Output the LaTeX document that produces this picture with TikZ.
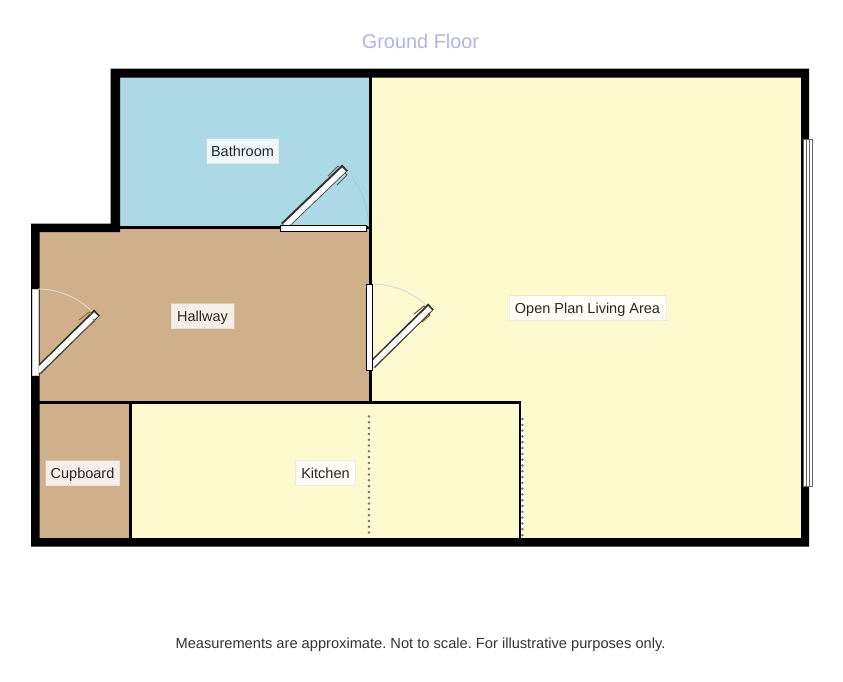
\documentclass[tikz,border=0pt]{standalone}
\usepackage{fontspec}
\setmainfont{Liberation Sans}
\definecolor{living}{HTML}{FFF9CF}
\definecolor{bath}{HTML}{ADD8E6}
\definecolor{hall}{HTML}{D0B08A}
\definecolor{titlec}{HTML}{B4B4E6}
\definecolor{labelb}{HTML}{DDDDDD}
\tikzset{
  roomlabel/.style={font=\fontsize{14.5}{16}\selectfont,text=black!85,fill=white,fill opacity=.8,text opacity=1,draw=labelb,draw opacity=.5,line width=.5pt,inner sep=0pt,text height=12.5pt,text depth=1pt,minimum height=25},
  wall/.style={fill=black},
  inner wall/.style={draw=black,line width=2.8pt},
  frame/.style={fill=white,draw=black,line width=.8pt},
  swing/.style={draw=black!15,line width=.9pt},
  leaf/.style={line width=8.3pt,draw=black!80,line cap=butt},
  leaf core/.style={line width=5.4pt,draw=white},
  handle/.style={line width=1pt,draw=#1},
  dots/.style={draw=black!55,line width=2.8pt,line cap=round,dash pattern=on 0pt off 5.8pt},
}
\begin{document}
\begin{tikzpicture}[x=1pt,y=-1pt]
\useasboundingbox (0,0) rectangle (843,681);
% room fills
\fill[living] (370,72) rectangle (805,542);
\fill[living] (130,403) rectangle (520,542);
\fill[bath] (116,72) rectangle (370,228);
\fill[hall] (35,228) rectangle (370,403);
\fill[hall] (35,403) rectangle (130,542);
% outer walls
\fill[wall,even odd rule] (110.5,68.5) -- (809,68.5) -- (809,546.5) -- (31,546.5) -- (31,223.5) -- (110.5,223.5) -- cycle
  (120,77.5) -- (120,232) -- (39.5,232) -- (39.5,538) -- (801,538) -- (801,77.5) -- cycle;
% inner walls
\draw[inner wall] (370.5,70) -- (370.5,404);
\draw[inner wall] (118,227.5) -- (370.5,227.5);
\draw[inner wall] (38,402.8) -- (520,402.8) -- (520,539);
\draw[inner wall] (130.5,402.8) -- (130.5,539);
% openings between kitchen and living
\fill[white] (521.3,418) rectangle (523.6,535);
\draw[dots] (369,416.5) -- (369,538);
\draw[dots] (522.4,419) -- (522.4,535);
% window
\fill[white] (803,139) rectangle (813,487);
\draw[black!60,line width=1.1pt] (803.5,139.5) rectangle (812.5,486.5);
\draw[black!60,line width=1.1pt] (806.5,139.5) -- (806.5,486.5) (809.5,139.5) -- (809.5,486.5);
% bathroom door
\draw[draw=bath!85!black!80,line width=.6pt] (344,168) arc[start angle=-45,end angle=0,radius=84];
\draw[leaf] (284,226) -- (345,167.5);
\draw[leaf core] (285,226) -- (344,169.4);
\draw[handle=black!65] (328,176) -- (338,166) -- (340,168);
\draw[handle=black!65] (337,185) -- (347,175) -- (345,173);
\draw[frame] (280.5,225.5) rectangle (366.5,231);
% hallway door
\draw[swing] (38,289) arc[start angle=-90,end angle=-45,radius=76];
\draw[leaf] (38,371) -- (97,312.5);
\draw[leaf core] (38,371) -- (96,314.2);
\draw[handle=brown!80!black] (79,320) -- (89,312) -- (91,314);
\draw[handle=brown!80!black] (87,328) -- (95,321) -- (93,319);
\fill[white] (32,289) rectangle (38,375);
\draw[black!20,line width=.5pt] (32,289) rectangle (38,375);
% living door
\draw[swing] (372,284) arc[start angle=-90,end angle=-45,radius=80];
\draw[leaf] (372,365) -- (431,306.5);
\draw[leaf core] (372,365) -- (430,308.2);
\draw[handle=brown!60!black] (414,314) -- (424,306) -- (426,308);
\draw[handle=brown!60!black] (422,322) -- (430,315) -- (428,313);
\draw[frame] (366.5,284.5) rectangle (372.5,370);
% labels
\node[font=\fontsize{19.9}{22}\selectfont,text=titlec] (title) at (420.5,41) {Ground Floor};
\node[roomlabel,minimum width=72] (bathlabel) at (242.5,151) {Bathroom};
\node[roomlabel,minimum width=63] (halllabel) at (202.5,316) {Hallway};
\node[roomlabel,minimum width=157] (livinglabel) at (587.5,308) {Open Plan Living Area};
\node[roomlabel,minimum width=74] (cupboardlabel) at (82.5,473) {Cupboard};
\node[roomlabel,minimum width=60] (kitchenlabel) at (325.5,473) {Kitchen};
\node[font=\fontsize{14.65}{16}\selectfont,text=black!80,text height=12.5pt,text depth=1pt] (note) at (420.5,643) {\frenchspacing Measurements are approximate. Not to scale. For illustrative purposes only.};
\end{tikzpicture}
\end{document}
